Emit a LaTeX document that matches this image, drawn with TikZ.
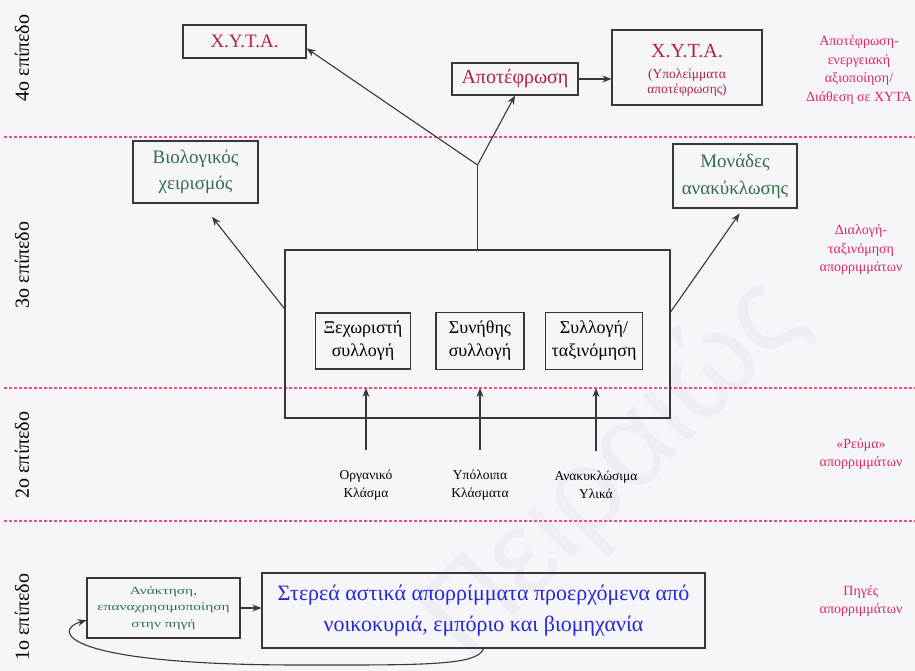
\documentclass[tikz,border=0pt]{standalone}
\usepackage{fontspec}
\setmainfont{Liberation Serif}
\newfontfamily\wmfont{Liberation Sans}
\newfontfamily\widefont[FakeStretch=1.4]{Liberation Serif}
\usetikzlibrary{arrows.meta,calc}
\definecolor{paper}{RGB}{245,245,250}
\definecolor{boxline}{RGB}{55,55,60}
\definecolor{maroon}{RGB}{178,36,62}
\definecolor{leafgreen}{RGB}{52,110,72}
\definecolor{royal}{RGB}{38,40,215}
\definecolor{rose}{RGB}{226,38,96}
\definecolor{roseline}{RGB}{238,80,130}
\definecolor{wmgray}{RGB}{237,237,243}
\newcommand{\fs}[2]{\fontsize{#1}{#2}\selectfont}

\begin{document}
\begin{tikzpicture}[x=1pt,y=-1pt,
  pbox/.style={draw=boxline,line width=1.1pt,align=center,inner sep=0pt},
  arr/.style={draw=boxline,line width=1.1pt,-{Stealth[length=9pt,width=7pt]}},
  level/.style={rotate=90,font=\fs{20}{22}},
  sidenote/.style={text=rose,align=center,font=\fs{14}{18.5}},
  stream/.style={align=center,font=\fs{13.5}{17.5},inner sep=2pt},
  divider/.style={draw=roseline,line width=1.1pt,dash pattern=on 3pt off 2pt}]

% canvas
\fill[paper] (0,0) rectangle (915,671);
\useasboundingbox (0,0) rectangle (915,671);

% faint watermark
\node[font=\wmfont\fs{120}{120},text=wmgray,rotate=45] (wm) at (615,470) {Πειραιώς};

% level dividers
\draw[divider] (4,137) -- (915,137);
\draw[divider] (4,388) -- (915,388);
\draw[divider] (4,521) -- (915,521);

% level names
\node[level] (lv4) at (22,58) {4ο επίπεδο};
\node[level] (lv3) at (22,265) {3ο επίπεδο};
\node[level] (lv2) at (22,455) {2ο επίπεδο};
\node[level] (lv1) at (22,617) {1ο επίπεδο};

% level descriptions
\node[sidenote] (n4) at (859,70) {Αποτέφρωση-\\ενεργειακή\\αξιοποίηση/\\Διάθεση σε ΧΥΤΑ};
\node[sidenote] (n3) at (861,250) {Διαλογή-\\ταξινόμηση\\απορριμμάτων};
\node[sidenote] (n2) at (861,454) {«Ρεύμα»\\απορριμμάτων};
\node[sidenote] (n1) at (861,601) {Πηγές\\απορριμμάτων};

% level 4
\node[pbox,minimum width=123,minimum height=33,text=maroon,font=\fs{19}{22}] (xyta1) at (244.5,41.5) {Χ.Υ.Τ.Α.};
\node[pbox,minimum width=126,minimum height=32,text=maroon,font=\fs{20}{22}] (apot) at (515,79) {Αποτέφρωση};
\node[pbox,minimum width=150,minimum height=75] (xyta2) at (687,67.5) {};
\node[text=maroon,font=\fs{20}{22}] (xyta2t) at (687,51) {Χ.Υ.Τ.Α.};
\node[text=maroon,align=center,font=\fs{13.5}{15}] (xyta2s) at (687,83) {(Υπολείμματα\\αποτέφρωσης)};

% level 3
\node[pbox,minimum width=125,minimum height=62,text=leafgreen,font=\fs{19}{26}] (bio) at (195.5,172) {Βιολογικός\\χειρισμός};
\node[pbox,minimum width=124,minimum height=64,text=leafgreen,font=\fs{19}{27}] (mon) at (735,176) {Μονάδες\\ανακύκλωσης};
\node[pbox,minimum width=385,minimum height=168] (big) at (477.5,334) {};
\node[pbox,minimum width=95,minimum height=56,font=\fs{18}{23}] (sep) at (363,341) {Ξεχωριστή\\συλλογή};
\node[pbox,minimum width=88,minimum height=57,font=\fs{18}{23}] (usual) at (480,341) {Συνήθης\\συλλογή};
\node[pbox,minimum width=97,minimum height=57,font=\fs{18}{23}] (sort) at (594,341) {Συλλογή/\\ταξινόμηση};

% level 2
\node[stream] (org) at (366,485) {Οργανικό\\Κλάσμα};
\node[stream] (rest) at (480,485) {Υπόλοιπα\\Κλάσματα};
\node[stream] (rec) at (596,485) {Ανακυκλώσιμα\\Υλικά};
\coordinate (t1) at (366,388);
\coordinate (t2) at (480,388);
\coordinate (t3) at (596,388);

% level 1
\node[pbox,minimum width=153,minimum height=60,text=leafgreen,font=\widefont\fs{11}{16.5}] (ans) at (163.5,608) {Ανάκτηση,\\επαναχρησιμοποίηση\\στην πηγή};
\node[pbox,minimum width=443,minimum height=75,text=royal,font=\fs{22}{31}] (src) at (483.5,610.5) {Στερεά αστικά απορρίμματα προερχόμενα από\\νοικοκυριά, εμπόριο και βιομηχανία};

% connectors
\draw[arr,shorten <=18pt] (org.north) -- (t1);
\draw[arr,shorten <=18pt] (rest.north) -- (t2);
\draw[arr,shorten <=18pt] (rec.north) -- (t3);

\coordinate (j) at (477.5,165);
\draw[boxline,line width=1.1pt] (big.north) -- (j);
\draw[arr] (j) -- ($(xyta1.south east)!0.3!(xyta1.north east)$);
\draw[arr] (j) -- (apot.south);
\draw[arr] (apot.east) -- (apot.east -| xyta2.west);

\draw[arr,shorten >=17pt] ($(big.north west)!0.35!(big.south west)$) -- ($(bio.south)+(6,0)$);
\draw[arr,shorten >=6pt] ($(big.north east)!0.37!(big.south east)$) -- ($(mon.south)+(8,0)$);

\draw[arr] (ans.east) -- (ans.east -| src.west);
\draw[arr] (src.south) .. controls (478,666) and (420,665) .. (300,665)
  .. controls (60,665) and (52,630) .. ($(ans.south west)!0.3!(ans.north west)$);
\end{tikzpicture}
\end{document}
